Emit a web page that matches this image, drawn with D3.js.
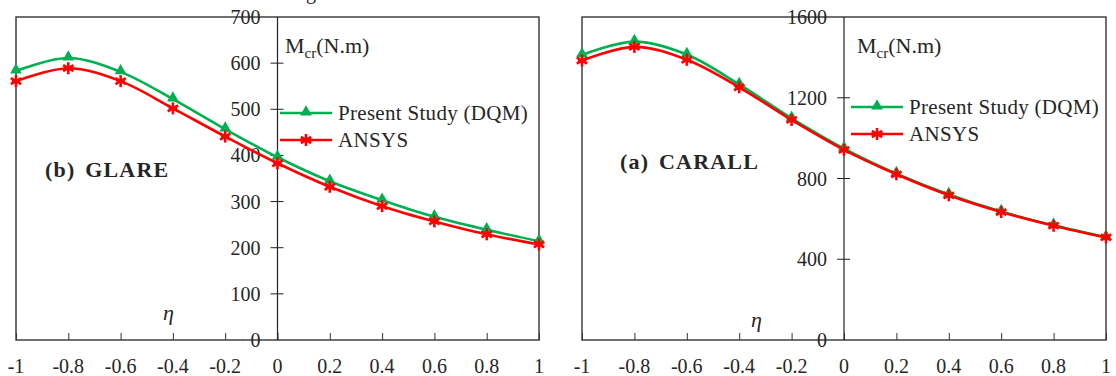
<!DOCTYPE html>
<html>
<head>
<meta charset="utf-8">
<script src="https://cdn.jsdelivr.net/npm/d3@7"></script>
<style>
  html, body { margin: 0; padding: 0; background: #fff; }
  svg { display: block; }
</style>
</head>
<body>
<svg id="chart" width="1116" height="376"></svg>
<script>
const etaValues = [-1, -0.8, -0.6, -0.4, -0.2, 0, 0.2, 0.4, 0.6, 0.8, 1];
const etaTickLabels = ['-1', '-0.8', '-0.6', '-0.4', '-0.2', '0', '0.2', '0.4', '0.6', '0.8', '1'];

const glareDQM   = [583, 611, 581, 522, 457, 396, 344, 303, 267, 239, 214];
const glareANSYS = [561, 589, 561, 502, 441, 383, 332, 290, 257, 229, 207];
const glareTicks = [0, 100, 200, 300, 400, 500, 600, 700];

const carallDQM   = [1412, 1478, 1414, 1266, 1098, 948, 824, 721, 636, 568, 509];
const carallANSYS = [1384, 1452, 1388, 1252, 1090, 942, 821, 717, 634, 566, 508];
const carallTicks = [0, 400, 800, 1200, 1600];

const seriesNames = ['Present Study (DQM)', 'ANSYS'];
const seriesColors = ['#00b050', '#ff0000'];

const FONT = '"Liberation Serif"';
const INK = '#262626';

const svg = d3.select('#chart');

function txt(sel) {
  return sel.append('text').style('font-family', FONT).attr('fill', INK);
}

// clipped caption glyph peeking in at the top
txt(svg).attr('x', 306).attr('y', -1).attr('font-size', 20).text('g');

function drawPanel(opt) {
  const { left, right, top, bottom, yMax, yTicks, dqm, ansys, title, titlePos, etaPos, legendPos, unitPos } = opt;

  const x = d3.scaleLinear().domain([-1, 1]).range([left, right]);
  const y = d3.scaleLinear().domain([0, yMax]).range([bottom, top]);
  const g = svg.append('g');

  // frame
  g.append('rect')
    .attr('x', left).attr('y', top)
    .attr('width', right - left).attr('height', bottom - top)
    .attr('fill', 'none').attr('stroke', '#333').attr('stroke-width', 1.4);

  // x axis at bottom, ticks inward
  const xAxis = d3.axisBottom(x).tickValues(etaValues).tickSize(-7).tickFormat('');
  const xg = g.append('g').attr('transform', `translate(0,${bottom})`).call(xAxis);
  xg.select('.domain').remove();
  xg.selectAll('.tick line').attr('stroke', '#333').attr('stroke-width', 1);

  etaValues.forEach((v, i) => {
    txt(g).attr('x', x(v)).attr('y', bottom + 33)
      .attr('text-anchor', 'middle').attr('font-size', 20)
      .text(etaTickLabels[i]);
  });

  // y axis at eta = 0, crossing ticks
  const x0 = x(0);
  g.append('line').attr('x1', x0).attr('x2', x0).attr('y1', top).attr('y2', bottom)
    .attr('stroke', '#222').attr('stroke-width', 1.2);
  g.selectAll('.ytick').data(yTicks.filter(v => v > 0 && v < yMax)).join('line')
    .attr('x1', x0 - 7).attr('x2', x0 + 6)
    .attr('y1', d => y(d)).attr('y2', d => y(d))
    .attr('stroke', '#222').attr('stroke-width', 1);
  yTicks.forEach(v => {
    txt(g).attr('x', x0 - 17).attr('y', y(v) + 7)
      .attr('text-anchor', 'end').attr('font-size', 20)
      .text(v);
  });

  // curves
  const line = d3.line()
    .x((d, i) => x(etaValues[i]))
    .y(d => y(d))
    .curve(d3.curveCatmullRom.alpha(0.5));

  [dqm, ansys].forEach((vals, s) => {
    g.append('path').datum(vals)
      .attr('d', line).attr('fill', 'none')
      .attr('stroke', seriesColors[s]).attr('stroke-width', 2.6);
  });

  const tri = d3.symbol().type(d3.symbolTriangle).size(60);
  g.selectAll('.tri').data(dqm).join('path')
    .attr('transform', (d, i) => `translate(${x(etaValues[i])},${y(d) - 1})`)
    .attr('d', tri).attr('fill', seriesColors[0]);

  g.selectAll('.star').data(ansys).join('g')
    .attr('transform', (d, i) => `translate(${x(etaValues[i])},${y(d)})`)
    .each(function () { drawStar(d3.select(this), 6, seriesColors[1]); });

  // legend
  seriesNames.forEach((name, s) => {
    const ly = legendPos.y + s * 27;
    g.append('line').attr('x1', legendPos.x).attr('x2', legendPos.x + 52)
      .attr('y1', ly).attr('y2', ly)
      .attr('stroke', seriesColors[s]).attr('stroke-width', 2.6);
    const mk = g.append('g').attr('transform', `translate(${legendPos.x + 26},${ly})`);
    if (s === 0) mk.append('path').attr('d', tri).attr('transform', 'translate(0,-1)').attr('fill', seriesColors[0]);
    else drawStar(mk, 6, seriesColors[1]);
    txt(g).attr('x', legendPos.x + 58).attr('y', ly + 7)
      .attr('font-size', 21).attr('letter-spacing', 0.3)
      .text(name);
  });

  // unit label
  const ut = txt(g).attr('x', unitPos.x).attr('y', unitPos.y).attr('font-size', 22);
  ut.append('tspan').text('M');
  ut.append('tspan').attr('font-size', 15).attr('dy', 5).text('cr');
  ut.append('tspan').attr('dy', -5).text('(N.m)');

  // panel title
  txt(g).attr('x', titlePos.x).attr('y', titlePos.y)
    .attr('font-size', 22).attr('font-weight', 'bold')
    .attr('letter-spacing', 1.2).attr('word-spacing', 3)
    .text(title);

  // eta label
  txt(g).attr('x', etaPos.x).attr('y', etaPos.y)
    .attr('font-size', 22).attr('font-style', 'italic')
    .text('η');
}

function drawStar(sel, r, color) {
  [0, 60, 120].forEach(a => {
    const rad = a * Math.PI / 180;
    sel.append('line')
      .attr('x1', -r * Math.sin(rad)).attr('y1', -r * Math.cos(rad))
      .attr('x2', r * Math.sin(rad)).attr('y2', r * Math.cos(rad))
      .attr('stroke', color).attr('stroke-width', 2.6);
  });
  sel.append('line').attr('x1', -r * 0.7).attr('x2', r * 0.7).attr('y1', 0).attr('y2', 0)
    .attr('stroke', color).attr('stroke-width', 2.6);
}

drawPanel({
  left: 16, right: 539, top: 17, bottom: 340,
  yMax: 700, yTicks: glareTicks,
  dqm: glareDQM, ansys: glareANSYS,
  title: '(b) GLARE', titlePos: { x: 45, y: 177 },
  etaPos: { x: 163, y: 320 },
  legendPos: { x: 280, y: 113 },
  unitPos: { x: 285, y: 53 }
});

drawPanel({
  left: 582, right: 1106, top: 17, bottom: 340,
  yMax: 1600, yTicks: carallTicks,
  dqm: carallDQM, ansys: carallANSYS,
  title: '(a) CARALL', titlePos: { x: 620, y: 169 },
  etaPos: { x: 751, y: 327 },
  legendPos: { x: 851, y: 107 },
  unitPos: { x: 857, y: 53 }
});
</script>
</body>
</html>
